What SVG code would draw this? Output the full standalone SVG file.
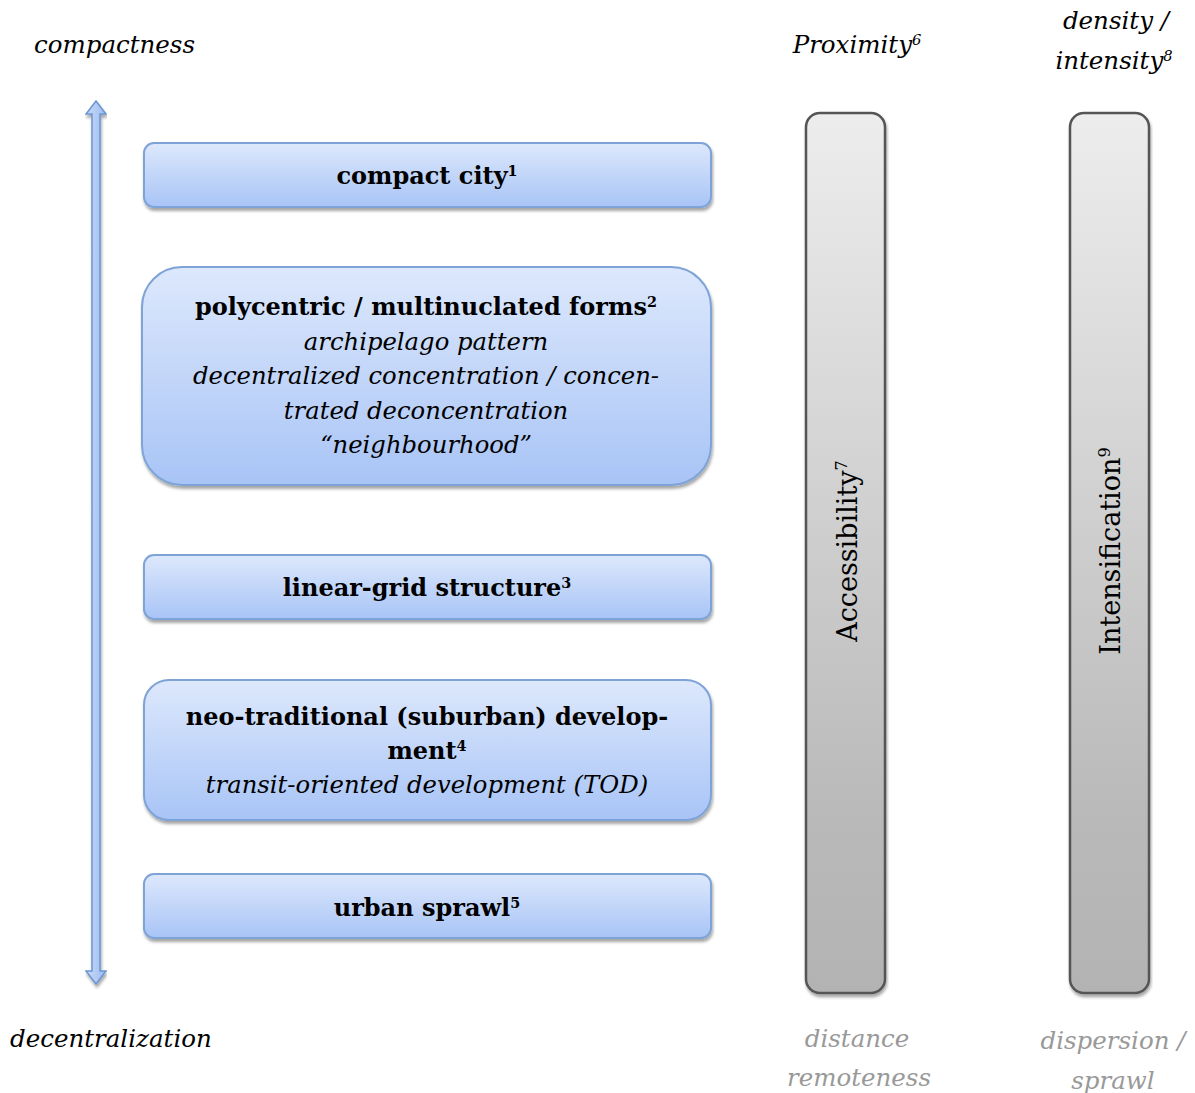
<svg xmlns="http://www.w3.org/2000/svg" width="1195" height="1093" viewBox="0 0 1195 1093">
<defs>
<linearGradient id="gBlue" x1="0" y1="0" x2="0" y2="1">
<stop offset="0" stop-color="#dde8fc"/>
<stop offset="1" stop-color="#a8c4f6"/>
</linearGradient>
<linearGradient id="gGray" x1="0" y1="0" x2="0" y2="1">
<stop offset="0" stop-color="#ededed"/>
<stop offset="0.8" stop-color="#b9b9b9"/>
<stop offset="1" stop-color="#b3b3b3"/>
</linearGradient>
<linearGradient id="gArrow" x1="0" y1="0" x2="1" y2="0">
<stop offset="0" stop-color="#c9daf8"/>
<stop offset="1" stop-color="#9dbcf0"/>
</linearGradient>
<filter id="sh" x="-5%" y="-10%" width="110%" height="130%">
<feDropShadow dx="1" dy="3" stdDeviation="1.5" flood-color="#000" flood-opacity="0.35"/>
</filter>
</defs>
<style>
.box{fill:url(#gBlue);stroke:#7ea3d6;stroke-width:2;filter:url(#sh)}
.bar{fill:url(#gGray);stroke:#555;stroke-width:2.5;filter:url(#sh)}
.t{font-family:"DejaVu Serif","Liberation Serif",serif;fill:#000}
.b{font-weight:bold;font-size:24px}
.i{font-style:italic;font-size:24.3px}
.lab{font-family:"DejaVu Serif","Liberation Serif",serif;font-style:italic;font-size:24.5px;fill:#000}
.gl{fill:#999}
.sup{font-size:60%}
</style>

<g id="labels">
<text class="lab" x="34" y="53">compactness</text>
<text class="lab" x="10" y="1047">decentralization</text>
<text class="lab" x="857" y="53" text-anchor="middle">Proximity<tspan class="sup" dy="-8">6</tspan></text>
<text class="lab" x="1116" y="29" text-anchor="middle">density /</text>
<text class="lab" x="1114" y="69" text-anchor="middle">intensity<tspan class="sup" dy="-8">8</tspan></text>
<text class="lab gl" x="857" y="1047" text-anchor="middle">distance</text>
<text class="lab gl" x="859" y="1086" text-anchor="middle">remoteness</text>
<text class="lab gl" x="1113" y="1049" text-anchor="middle">dispersion /</text>
<text class="lab gl" x="1113" y="1089" text-anchor="middle">sprawl</text>
</g>

<g id="connectors">
<path d="M96 101 L106 114 L100 114 L100 971 L106 971 L96 984 L86 971 L92 971 L92 114 L86 114 Z" fill="url(#gArrow)" stroke="#6b95d2" stroke-width="1.5" filter="url(#sh)"/>
</g>

<g id="node-compact-city">
<rect class="box" x="144" y="143" width="567" height="64" rx="10"/>
<text class="t b" x="427" y="184" text-anchor="middle">compact city<tspan class="sup" dy="-8">1</tspan></text>
</g>

<g id="node-polycentric">
<rect class="box" x="142" y="267" width="569" height="218" rx="40"/>
<text class="t b" x="426" y="315" text-anchor="middle">polycentric / multinuclated forms<tspan class="sup" dy="-8">2</tspan></text>
<text class="t i" x="426" y="350" text-anchor="middle">archipelago pattern</text>
<text class="t i" x="426" y="384" text-anchor="middle">decentralized concentration / concen-</text>
<text class="t i" x="426" y="419" text-anchor="middle">trated deconcentration</text>
<text class="t i" x="426" y="453" text-anchor="middle">“neighbourhood”</text>
</g>

<g id="node-linear-grid">
<rect class="box" x="144" y="555" width="567" height="64" rx="10"/>
<text class="t b" x="427" y="596" text-anchor="middle">linear-grid structure<tspan class="sup" dy="-8">3</tspan></text>
</g>

<g id="node-neo-traditional">
<rect class="box" x="144" y="680" width="567" height="140" rx="25"/>
<text class="t b" x="427" y="725" text-anchor="middle">neo-traditional (suburban) develop-</text>
<text class="t b" x="427" y="759" text-anchor="middle">ment<tspan class="sup" dy="-8">4</tspan></text>
<text class="t i" x="427" y="793" text-anchor="middle">transit-oriented development (TOD)</text>
</g>

<g id="node-urban-sprawl">
<rect class="box" x="144" y="874" width="567" height="64" rx="10"/>
<text class="t b" x="427" y="916" text-anchor="middle">urban sprawl<tspan class="sup" dy="-8">5</tspan></text>
</g>

<g id="node-accessibility">
<rect class="bar" x="806" y="113" width="79" height="880" rx="14"/>
<text class="t" x="0" y="0" font-size="27" text-anchor="middle" transform="translate(857 551) rotate(-90)">Accessibility<tspan class="sup" dy="-10">7</tspan></text>
</g>

<g id="node-intensification">
<rect class="bar" x="1070" y="113" width="79" height="880" rx="14"/>
<text class="t" x="0" y="0" font-size="27" text-anchor="middle" transform="translate(1120 551) rotate(-90)">Intensification<tspan class="sup" dy="-10">9</tspan></text>
</g>
</svg>
